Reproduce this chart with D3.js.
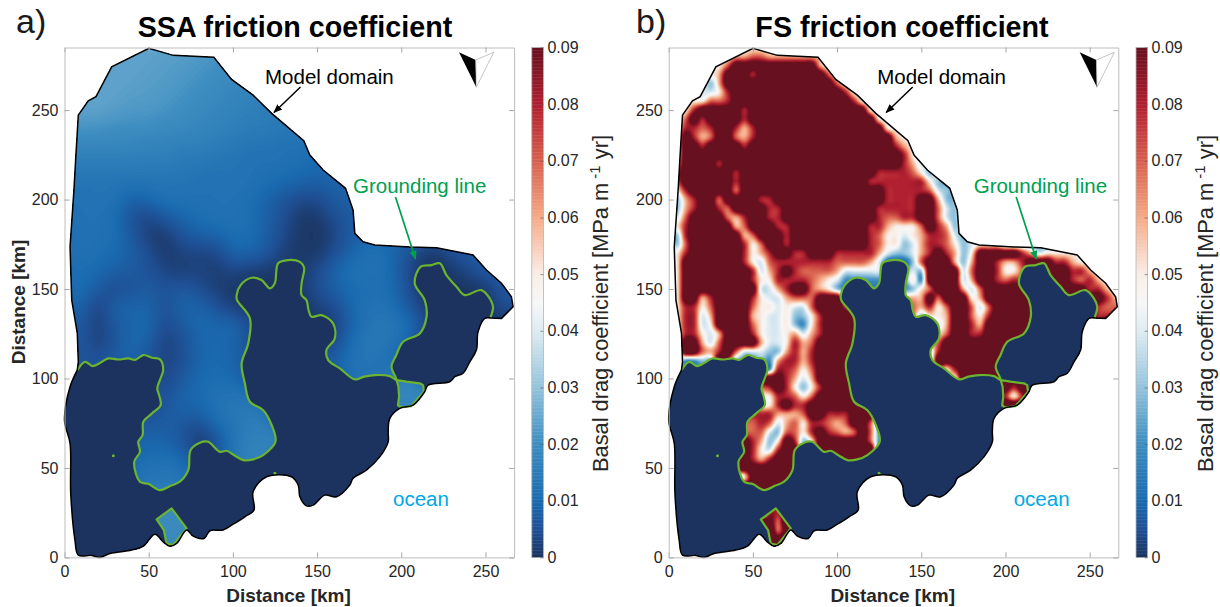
<!DOCTYPE html>
<html><head><meta charset="utf-8">
<script src="https://cdn.jsdelivr.net/npm/d3@7"></script>
<style>
html,body{margin:0;padding:0;background:#fff}
text{font-family:"Liberation Sans",Arial,sans-serif}
</style></head><body>
<svg id="c" width="1220" height="607"></svg>
<script>
const xTicks=[0,50,100,150,200,250];
const yTicks=[0,50,100,150,200,250];
const cbTicks=[0,0.01,0.02,0.03,0.04,0.05,0.06,0.07,0.08,0.09];
const cbStops=[0,0.005,0.01,0.02,0.03,0.04,0.045,0.05,0.06,0.07,0.08,0.09];
const cbColors=["#1b335e","#1f4f94","#1a6ab0","#3d8dc0","#93c3dc","#deebf2","#f7f7f7","#f9eee8","#f5ab87","#d8604e","#b01f30","#67101f"];

// coast in km, from the north-west corner clockwise to the east tip
const coastNorth=[[8.2,247.2],[14.1,255.2],[18.7,257.5],[28,274.2],[50.1,284.5],[64.6,280.6],[88.7,279.5],[99.2,267.2],[112,258.4],[123,248.2],[142.1,232.9],[145.7,224.9],[153.6,216.5],[166.9,206.3],[171.4,194.1],[172.4,181.1],[177.3,176.4],[184.3,174.6],[205,173.5],[220.9,173.1],[242.6,169],[250.6,160.6],[259.5,153.2],[265.4,145.7],[266.4,140.1],[259.5,133.6],[253,133.8]];
const coastSouth=[[253,133.8],[249.6,133.6],[245.6,126.1],[244.6,115.9],[240.7,109.3],[236.7,102.9],[231.8,101],[228.8,98.2],[215.9,96.3],[213.9,92.6],[207,85.1],[199.1,83.3],[193.2,77.7],[192.2,70.2],[192.2,64.6],[187.2,56.2],[179.3,48.8],[171.4,44.2],[169.4,40.4],[161.5,33.9],[154.6,34.8],[147.7,29.2],[143.7,28.8],[139.8,33.9],[138.8,40.4],[134.8,45.1],[120,45.1],[112,36.7],[112.5,26.4],[107.1,22.7],[100.2,18.6],[94.2,15.3],[86.4,14.9],[82.8,10.6],[76.4,11.9],[72.5,15.3],[66.6,7.8],[62.6,6.3],[58.6,8.7],[53.7,13],[46.8,6.3],[39.9,4.1],[27,2.2],[21,0],[16.1,1.1],[8.2,1.3],[6.2,9.7],[3.7,35.8],[3.3,63.7],[0,76.7],[3.3,95.4],[7.6,104.7]];
const coastWest=[[7.6,104.7],[8.2,109.3],[7.6,125.2],[4.3,143.8],[3.3,173.6],[5.6,205.3],[6.6,222],[8.2,247.2]];

const groundingLine=[[7.6,104.7],[12.2,109.3],[16.7,106.9],[21,108.6],[26,111.2],[32,110.6],[37.9,111.2],[42,110.4],[46.8,113.1],[52,111.6],[56.7,110.7],[58.6,104.7],[57,100],[55.1,94.5],[56.4,90],[57.1,85.1],[52,80.5],[46.8,75.8],[46.4,68.4],[43.8,64.6],[44.8,59],[41.4,53.4],[44.8,42.3],[50,41],[56.7,37.6],[63,40],[68.5,42.3],[73.5,48.8],[74.9,60],[80.4,64.1],[85.3,64.6],[92.3,59],[96.3,59.6],[101,57],[106.1,54.4],[112,54.8],[118,57.2],[125.3,64.6],[123,74],[118,82.3],[110.1,87],[107.1,97.3],[105.2,108.4],[109.1,119.6],[110.1,133.6],[102.5,143.8],[102.2,146.6],[104.6,152.2],[111.1,156.3],[117,155],[122,150.4],[124.9,153.2],[126.9,164.4],[132.8,166.2],[139.8,165.2],[142.3,161.9],[140.8,153.2],[140.8,146.6],[143.7,143.8],[145,138],[146.7,134.5],[152.6,135.4],[159.5,130.8],[160.5,122.4],[155.6,115.9],[156.6,110.3],[163.5,105.6],[172.4,99.5],[178,101],[184.3,101.9],[193.2,101.3],[197.2,99.1],[194.2,106.5],[197,113],[201.1,120.5],[211,125.2],[215,134.5],[213.9,143.8],[208,153.2],[211.4,162.4],[217.9,163.4],[222.9,164.4],[226.8,157.8],[232.8,151.3],[237.6,146.6],[247.5,149.4],[252.5,144.8],[254.5,140.1],[253,134.2]];
const islandEast=[[197.2,99.1],[203,98.2],[211,97.3],[212.9,96.3],[213.4,92.6],[206,84.6],[199.7,83.8],[198,85],[198.7,89.8],[198.3,95.4]];
const islandSouth=[[54.7,21.2],[63.6,27.4],[72.5,16.2],[64.6,6.9],[60.6,7.8],[59,15.3]];
const specks=[[29,56.8],[124.9,47]];

// SSA coefficient, thousandths, rows from y=290 to y=0 km, columns every 10 km from x=0
const ssaRows=[
[24],
[24,24,24,24,24,24,23,23,22,21,20,20],
[24,24,24,24,24,23,23,22,21,20,19,19],
[24,24,24,24,23,23,22,21,20,19,18,17],
[24,24,24,23,22,22,21,20,19,18,17,16,15,14],
[21,21,21,20,20,20,19,19,18,17,16,15,15,14],
[18,18,18,18,18,17,17,16,16,15,14,13,13,12,12,11],
[15,15,15,15,15,15,15,14,14,13,13,12,12,12,11,10,10],
[13,13,13,13,13,13,13,13,12,12,13,12,11,10,9,8,9,9],
[12,12,13,12,8,10,12,12,12,12,12,11,9,6,4,4,7,8,8],
[11,12,12,11,5,3,7,9,11,12,12,11,8,5,1,1,5,7,9,9],
[11,12,12,11,7,2,1,6,8,9,11,11,8,4,1,0,3,7,9,10,10,9,8,8,8,8,8,8],
[11,12,11,10,8,5,1,3,3,3,9,9,7,2,1,1,5,9,12,11,7,3,0,5,7,8,8,8],
[10,11,10,8,7,6,3,2,3,2,3,2,1,1,2,4,9,12,12,12,7,1,0,1,4,7,8,8],
[10,11,7,4,6,7,6,7,5,2,1,0,0,0,1,5,8,10,11,11,8,1,0,0,0,1,6,7],
[8,9,2,9,9,9,5,9,9,6,2,1,0,0,0,3,4,10,12,13,9,4,0,0,0,1,5,5],
[6,7,2,7,9,10,4,7,10,9,10,5,0,0,0,0,2,8,13,14,13,8,0],
[6,7,2,6,10,8,2,5,9,10,9,5,0,0,0,3,4,11,14,14,11,5,0],
[5,6,6,8,9,6,3,5,9,10,9,6,0,0,0,6,8,12,13,12,8,0],
[5,5,5,5,5,5,3,7,10,11,10,6,5,0,0,0,8,12,13,13,17,17,0],
[0,0,0,0,0,5,6,9,10,12,13,13,6,0,0,0,0,10,10,18,18,18,18,0],
[0,0,0,0,5,5,7,8,8,12,14,15,15,0,0,0,0,0,0,18,18,18,18,0],
[0,0,0,0,8,8,8,6,2,8,13,16,16,16,0,0,0,0,0,18,18,18,18,0],
[0,0,0,0,9,10,10,8,1,4,13,17,17,17,0],
[0,0,0,0,11,12,13,12,8,8,15,17,17,0],
[0,0,0,0,14,14,14,14,8,0],
[0,0,0,0,0,19,19,19,19,0],
[0,0,0,0,0,19,19,19,19,0],
[0,0,0,0,0,19,19,19,19,0],
[0,0,0,0,0,19,19,19,19,0]];

// FS coefficient, hundredths (9 = saturated), rows from y=285 to y=0 km, one digit every 5 km from x=0
const fsRows=[
"5555555555 5555555555 5555555555 5555555555 5555555555 55555",
"5555555566 7766666665 5555555555 5555555555 5555555555 55555",
"5555555799 9999999965 5555555555 5555555555 5555555555 55555",
"5555556999 8999999997 5555555555 5555555555 5555555555 55555",
"5555536999 9999999999 7555555555 5555555555 5555555555 55555",
"5555445899 9999999999 9855555555 5555555555 5555555555 55555",
"5555577899 9999999999 9985555555 5555555555 5555555555 55555",
"5558999998 9999999999 9999555555 5555555555 5555555555 55555",
"5579899998 9999999999 9999955555 5555555555 5555555555 55555",
"5588789986 8999999999 9999995555 5555555555 5555555555 55555",
"5598679976 8999999999 9999999655 5555555555 5555555555 55555",
"5599899998 9999999999 9999999865 5555555555 5555555555 55555",
"5599999999 9999999999 9999999985 4555555555 5555555555 55555",
"5699998999 9999999999 9999999986 4555555555 5555555555 55555",
"5899999989 9999999999 9999988887 5355555555 5555555555 55555",
"5799999989 9999999999 9999888888 8533555555 5555555555 55555",
"5589999979 9999999999 9999998888 8743355555 5555555555 55555",
"5368997999 9889999999 9999998888 9963355555 5555555555 55555",
"5368998799 9988999999 9999988888 9974355555 5555555555 55555",
"5479999768 9988999999 9999987788 9974355555 5555555555 55555",
"5589999967 9998899999 9999886555 7986355555 5555555555 55555",
"5389999996 7999899999 9999875545 6887435555 5555555555 55555",
"5379999998 5799899999 9999875534 6887534555 3333333444 55555",
"5589999998 5689988999 8888864334 6898635999 9986455555 55555",
"5599999998 5478888888 7777641113 7999636998 6689998865 55555",
"5599999999 8468987777 6444442224 3999947998 5578889988 65555",
"5599999999 8558888765 4222222225 2999946998 7889999987 86555",
"5599999999 9446899765 3222222223 5799964799 9999999999 88655",
"5599689999 8544677799 9666666666 6979995699 9999999999 99865",
"5588579999 7554544799 9877777777 6857997479 9999999999 98777",
"5588469999 6544533589 9997777777 3556997589 9999999999 98888",
"5588459999 7544532589 9997777777 2346998699 9999999999 99999",
"5588546999 8544564689 9997777777 2457998899 9999999999 99999",
"5599647999 9644586799 9997777777 2579999999 9999999999 99999",
"5599768974 4433686899 9997777777 2389999999 9999999999 99999",
"5522339832 2326886899 9997777777 2299999999 9999999999 00000",
"2222222222 2228875799 9997777777 4465899999 9999000000 00000",
"0000000099 9999864699 9999000000 0005499999 9999000000 00000",
"0000000077 7789853589 9999900000 0000000099 9899000000 00000",
"0000000055 5558875799 9999990000 0000000099 8589000000 00000",
"0000000088 8558988999 9999999000 0000000099 9999000000 00000",
"0000000088 8886667998 8899900000 0000000000 0000000000 00000",
"0000000077 7874675887 6799720000 0000000000 0000000000 00000",
"0000000077 7743775898 7679720000 0000000000 0000000000 00000",
"0000000099 8635983599 9999720000 0000000000 0000000000 00000",
"0000000099 8548993399 9999900000 0000000000 0000000000 00000",
"0000000099 8689990099 9999000000 0000000000 0000000000 00000",
"0000000999 9999999000 0000000000 0000000000 0000000000 00000",
"0000000035 9999999000 0000000000 0000000000 0000000000 00000",
"0000000099 9999999000 0000000000 0000000000 0000000000 00000",
"0000000099 9999900000 0000000000 0000000000 0000000000 00000",
"0000000000 0077700000 0000000000 0000000000 0000000000 00000",
"0000000000 0088800000 0000000000 0000000000 0000000000 00000",
"0000000000 9997900000 0000000000 0000000000 0000000000 00000",
"0000000000 0097990000 0000000000 0000000000 0000000000 00000",
"0000000000 0099900000 0000000000 0000000000 0000000000 00000",
"0000000000 0099900000 0000000000 0000000000 0000000000 00000",
"0000000000 0000000000 0000000000 0000000000 0000000000 00000"];

const ssaGrid=ssaRows.map(r=>r.map(v=>v/1000));
const fsGrid=fsRows.map(s=>Array.from(s.replace(/ /g,""),c=>c==="9"?0.1:(+c)/100));

const svg=d3.select("#c");
const color=d3.scaleLinear().domain(cbStops).range(cbColors).clamp(true);
const defs=svg.append("defs");
["k","g"].forEach((id,i)=>{
  defs.append("marker").attr("id","arrow-"+id).attr("viewBox","0 0 10 10").attr("refX",9).attr("refY",5)
   .attr("markerUnits","userSpaceOnUse").attr("orient","auto")
   .attr("markerWidth",9).attr("markerHeight",9)
   .append("path").attr("d","M0,1 L10,5 L0,9 Z").attr("fill",i?"#00a04f":"#000");
});

function sampler(grid,step,topY,kernel){
  const g=(i,j)=>{
    const r=grid[Math.max(0,Math.min(grid.length-1,j))];
    return r[Math.max(0,Math.min(r.length-1,i))];
  };
  const cr=(a,b,c,d,t)=>b+0.5*t*(c-a+t*(2*a-5*b+4*c-d+t*(3*(b-c)+d-a)));
  const bs=(a,b,c,d,t)=>{const u=1-t;return (u*u*u*a+(3*t*t*t-6*t*t+4)*b+(-3*t*t*t+3*t*t+3*t+1)*c+t*t*t*d)/6;};
  const k=kernel==="spline"?bs:cr;
  return (x,y)=>{
    const u=x/step, v=(topY-y)/step, i=Math.floor(u), j=Math.floor(v), tx=u-i, ty=v-j;
    const row=n=>k(g(i-1,n),g(i,n),g(i+1,n),g(i+2,n),tx);
    return k(row(j-1),row(j),row(j+1),row(j+2),ty);
  };
}

function panel(o){
  const top=47.5,bottom=557.4,left=o.left,right=o.left+449.6;
  const x=d3.scaleLinear().domain([0,267]).range([left,right]);
  const y=d3.scaleLinear().domain([0,285]).range([bottom,top]);
  const g=svg.append("g");
  const straight=d3.line().x(d=>x(d[0])).y(d=>y(d[1]));
  const line=d3.line().x(d=>x(d[0])).y(d=>y(d[1])).curve(d3.curveCatmullRom.alpha(0.5));
  const cont=s=>s.replace(/^M/,"L");
  const outlinePath=straight(coastNorth)+cont(line(coastSouth))+cont(straight(coastWest))+"Z";
  const clipId="clip"+o.id;
  defs.append("clipPath").attr("id",clipId).append("path").attr("d",outlinePath);

  // field
  const step=1.5,w=181,h=193,f=sampler(o.grid,o.step,o.topY,o.kernel);
  const values=new Float64Array(w*h);
  for(let j=0;j<h;j++)for(let i=0;i<w;i++)values[j*w+i]=Math.max(0,f(i*step,j*step));
  const levels=d3.range(o.lvl,o.lvlMax,o.lvl);
  const contours=d3.contours().size([w,h]).smooth(true).thresholds(levels)(values);
  const path=d3.geoPath(d3.geoTransform({point(px,py){this.stream.point(x((px-0.5)*step),y((py-0.5)*step));}}));
  const field=g.append("g").attr("clip-path",`url(#${clipId})`);
  field.append("path").attr("d",outlinePath).attr("fill",color(0));
  field.selectAll("path.lvl").data(contours).join("path").attr("class","lvl")
    .attr("d",path).attr("fill",d=>color(d.value+o.lvl/2));
  // ocean
  const oceanD=line(coastSouth)+cont(line(groundingLine))+"Z"+straight(islandEast)+"Z"+straight(islandSouth)+"Z";
  field.append("path").attr("d",oceanD).attr("fill-rule","evenodd").attr("fill","#1b335e");
  // lines
  const gl=g.append("g").attr("fill","none").attr("stroke","#6cb42f").attr("stroke-width",2.2).attr("stroke-linejoin","round");
  gl.append("path").attr("d",line(groundingLine));
  gl.append("path").attr("d",straight(islandEast)+"Z");
  gl.append("path").attr("d",straight(islandSouth)+"Z");
  g.selectAll("circle.speck").data(specks).join("circle").attr("class","speck")
    .attr("cx",d=>x(d[0])).attr("cy",d=>y(d[1])).attr("r",1.5).attr("fill","#6cb42f");
  g.append("path").attr("d",outlinePath).attr("fill","none").attr("stroke","#000").attr("stroke-width",1.5);

  // axes
  const style=(a,hide)=>{
    a.selectAll(".domain").attr("stroke","#bdbdbd").attr("stroke-width",1);
    a.selectAll(".tick line").attr("stroke","#a6a6a6");
    a.selectAll("text").attr("fill","#262626").style("font-size","16px").style("font-family","'Liberation Sans',Arial,sans-serif");
    if(hide)a.selectAll("text").remove();
  };
  g.append("g").attr("transform",`translate(0,${bottom})`).call(d3.axisBottom(x).tickValues(xTicks).tickSize(-5).tickSizeOuter(0).tickPadding(8)).call(a=>style(a));
  g.append("g").attr("transform",`translate(0,${top})`).call(d3.axisTop(x).tickValues(xTicks).tickSize(-5).tickSizeOuter(0)).call(a=>style(a,true));
  g.append("g").attr("transform",`translate(${left},0)`).call(d3.axisLeft(y).tickValues(yTicks).tickSize(-5).tickSizeOuter(0).tickPadding(6)).call(a=>style(a));
  g.append("g").attr("transform",`translate(${right},0)`).call(d3.axisRight(y).tickValues(yTicks).tickSize(-5).tickSizeOuter(0)).call(a=>style(a,true));

  // titles
  const T=(t,tx,ty,size,attrs={})=>{
    const e=g.append("text").attr("x",tx).attr("y",ty).text(t).style("font-size",size+"px").attr("fill",attrs.fill||"#000");
    if(attrs.bold)e.style("font-weight","700");
    if(attrs.anchor)e.attr("text-anchor",attrs.anchor);
    if(attrs.rotate)e.attr("transform",`rotate(-90 ${tx} ${ty})`);
    return e;
  };
  T(o.letter,o.letterX,33,34,{fill:"#1a1a1a"});
  T(o.title,o.titleX,36.5,28.7,{bold:true,anchor:"middle"});
  T("Distance [km]",left+224,601.5,19,{bold:true,anchor:"middle",fill:"#262626"});
  if(o.yLabel)T("Distance [km]",25,302,19,{bold:true,anchor:"middle",rotate:true,fill:"#262626"});
  const dm=o.shiftModel,ds=o.shiftRest;
  T("Model domain",left+200.5+dm,84,20.5);
  T("Grounding line",left+288.5+ds,193,20.5,{fill:"#00a04f"});
  T("ocean",left+328.5+ds,506,20.5,{fill:"#00a8e6"});
  g.append("line").attr("x1",left+236+dm).attr("y1",87).attr("x2",left+209.5+dm).attr("y2",112.5)
    .attr("stroke","#000").attr("stroke-width",1.5).attr("marker-end","url(#arrow-k)");
  g.append("line").attr("x1",left+331+ds).attr("y1",197).attr("x2",left+351+ds).attr("y2",259)
    .attr("stroke","#00a04f").attr("stroke-width",1.7).attr("marker-end","url(#arrow-g)");

  // north arrow
  const nx=left+394.5+ds;
  g.append("path").attr("d",`M${nx},52.3 L${nx+16.7},60 L${nx+17.3},87.3 Z`).attr("fill","#000");
  g.append("path").attr("d",`M${nx+34.7},52.3 L${nx+16.7},60 L${nx+17.3},87.3 Z`).attr("fill","#fff").attr("stroke","#aaa").attr("stroke-width",0.7);

  // colorbar
  const cb=o.cbLeft,cw=11.6;
  const cy=d3.scaleLinear().domain([0,0.09]).range([bottom,top]);
  const bar=g.append("g");
  bar.selectAll("rect").data(d3.range(0,0.09,0.00025)).join("rect")
    .attr("x",cb).attr("width",cw).attr("y",d=>cy(d+0.00025)).attr("height",d=>cy(d)-cy(d+0.00025)+0.4).attr("fill",d=>color(d+0.000125));
  bar.append("rect").attr("x",cb).attr("y",top).attr("width",cw).attr("height",bottom-top).attr("fill","none").attr("stroke","#b5b5b5").attr("stroke-width",0.8);
  const ca=g.append("g").attr("transform",`translate(${cb+cw},0)`)
    .call(d3.axisRight(cy).tickValues(cbTicks).tickFormat(d=>d===0?"0":d3.format(".2f")(d)).tickSize(-3).tickSizeOuter(0).tickPadding(4));
  ca.select(".domain").remove();
  ca.selectAll(".tick line").attr("stroke","#555").attr("stroke-opacity",0.6);
  ca.selectAll("text").attr("fill","#262626").style("font-size","16px").style("font-family","'Liberation Sans',Arial,sans-serif");
  const lx=cb+76.5;
  const lab=g.append("text").attr("transform",`translate(${lx},303.5) rotate(-90)`).attr("text-anchor","middle")
    .attr("fill","#262626").style("font-size","21.8px");
  lab.append("tspan").text("Basal drag coefficient [MPa m");
  lab.append("tspan").text(" -1").attr("dy",-8).style("font-size","15px");
  lab.append("tspan").text(" yr]").attr("dy",8);
}

panel({id:"a",left:64.5,grid:ssaGrid,step:10,topY:290,kernel:"spline",lvl:0.0004,lvlMax:0.03,letter:"a)",letterX:16,title:"SSA friction coefficient",titleX:295,yLabel:true,shiftModel:0,shiftRest:0,cbLeft:531.8});
panel({id:"b",left:668.7,grid:fsGrid,step:5,topY:285,kernel:"cubic",lvl:0.00075,lvlMax:0.0901,letter:"b)",letterX:636,title:"FS friction coefficient",titleX:902,yLabel:false,shiftModel:8,shiftRest:16.5,cbLeft:1136});
</script>
</body></html>
